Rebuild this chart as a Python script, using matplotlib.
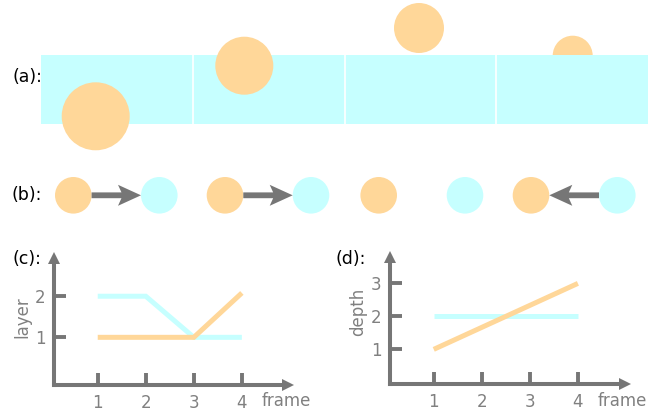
import matplotlib.pyplot as plt
from matplotlib.patches import Rectangle, Circle

plt.rcParams['font.family'] = ['DejaVu Sans']

ORANGE = '#FFD799'
CYAN = '#C6FFFF'
GRAY = '#767676'
TEXT_GRAY = '#808080'

W, H = 668, 416

# (a) strip of four frames with one circle each (pixel units)
strip_left, strip_top, strip_height = 41, 55, 69
frame_width = 151.75
n_frames = 4
a_circle_x = [95.7, 244.3, 419, 572.7]
a_circle_y = [116.3, 65.7, 28, 55.7]
a_circle_r = [34, 29, 25, 20]
a_circle_front = [True, True, True, False]

# (b) orange / cyan pairs and arrow direction (1 right, -1 left, 0 none)
b_y = 195.3
b_r = 18.3
b_orange_x = [73.3, 225, 378.7, 531]
b_cyan_x = [159.3, 311, 465, 617.3]
b_direction = [1, 1, 0, -1]

# (c) layer per frame
frames = [1, 2, 3, 4]
layer_cyan = [2, 2, 1, 1]
layer_orange = [1, 1, 1, 2.08]
layer_ticks = [1, 2]

# (d) depth per frame
depth_frames = [1, 4]
depth_cyan = [2, 2]
depth_orange = [1, 3]
depth_ticks = [1, 2, 3]

fig = plt.figure(figsize=(W / 100, H / 100), dpi=100)

# overlay axes in pixel units for panels (a), (b) and the labels
ax_top = fig.add_axes([0, 0, 1, 1])
ax_top.set_xlim(0, W)
ax_top.set_ylim(H, 0)
ax_top.axis('off')

ax_top.add_patch(Rectangle((strip_left, strip_top), frame_width * n_frames,
                           strip_height, facecolor=CYAN, edgecolor='none',
                           zorder=2))
for i in range(1, n_frames):
    xb = strip_left + i * frame_width
    ax_top.plot([xb, xb], [strip_top, strip_top + strip_height],
                color='white', lw=1.2, zorder=2.5)

for x, y, r, front in zip(a_circle_x, a_circle_y, a_circle_r, a_circle_front):
    ax_top.add_patch(Circle((x, y), r, facecolor=ORANGE, edgecolor='none',
                            zorder=3 if front else 1))

for xo, xc, d in zip(b_orange_x, b_cyan_x, b_direction):
    ax_top.add_patch(Circle((xo, b_y), b_r, facecolor=ORANGE, edgecolor='none'))
    ax_top.add_patch(Circle((xc, b_y), b_r, facecolor=CYAN, edgecolor='none'))
    if d == 1:
        x0, x1 = xo + b_r, xc - b_r
    elif d == -1:
        x0, x1 = xc - b_r, xo + b_r
    else:
        continue
    ax_top.arrow(x0, b_y, x1 - x0, 0, width=5.8, head_width=21,
                 head_length=23, length_includes_head=True, overhang=0.15,
                 color=GRAY, lw=0)

label_kw = dict(ha='center', va='center', fontsize=12.5, color='black')
ax_top.text(27, 77, '(a):', **label_kw)
ax_top.text(27, 195.5, '(b):', **label_kw)
ax_top.text(27, 259, '(c):', **label_kw)
ax_top.text(351, 259, '(d):', **label_kw)

side_kw = dict(fontsize=12, color=TEXT_GRAY)
ax_top.text(22, 317, 'layer', rotation=90, ha='center', va='center', **side_kw)
ax_top.text(262, 401, 'frame', ha='left', va='center', **side_kw)
ax_top.text(358, 312, 'depth', rotation=90, ha='center', va='center', **side_kw)
ax_top.text(598, 401, 'frame', ha='left', va='center', **side_kw)


def px_axes(left, top, right, bottom):
    return fig.add_axes([left / W, 1 - bottom / H, (right - left) / W,
                         (bottom - top) / H])


def style_axes(ax):
    ax.patch.set_alpha(0)
    for s in ['top', 'right']:
        ax.spines[s].set_visible(False)
    for s in ['left', 'bottom']:
        ax.spines[s].set_linewidth(2.9)
        ax.spines[s].set_color(GRAY)
    ax.tick_params(direction='in', length=8.5, width=2.8, color=GRAY,
                   labelcolor=TEXT_GRAY, labelsize=12)
    ax.tick_params(axis='x', pad=6.5)
    ax.tick_params(axis='y', pad=6)
    ax.plot(1, 0, '>', transform=ax.transAxes, clip_on=False, ms=8.5,
            color=GRAY, mew=0)
    ax.plot(0, 1, '^', transform=ax.transAxes, clip_on=False, ms=8.5,
            color=GRAY, mew=0)


line_kw = dict(lw=3.6, solid_capstyle='butt', solid_joinstyle='miter',
               clip_on=False)

# (c)
ax_c = px_axes(54, 258, 288, 385)
style_axes(ax_c)
ax_c.set_xlim(0.09, 4.96)
ax_c.set_ylim(-0.16, 2.93)
ax_c.set_xticks(frames)
ax_c.set_yticks(layer_ticks)
ax_c.plot(frames, layer_cyan, color=CYAN, **line_kw)
ax_c.plot(frames, layer_orange, color=ORANGE, **line_kw)

# (d)
ax_d = px_axes(390, 257, 625, 384)
style_axes(ax_d)
ax_d.set_xlim(0.09, 4.98)
ax_d.set_ylim(-0.05, 3.8)
ax_d.set_xticks(frames)
ax_d.set_yticks(depth_ticks)
ax_d.plot(depth_frames, depth_cyan, color=CYAN, **line_kw)
ax_d.plot(depth_frames, depth_orange, color=ORANGE, **line_kw)

plt.savefig('out.png', dpi=100)
